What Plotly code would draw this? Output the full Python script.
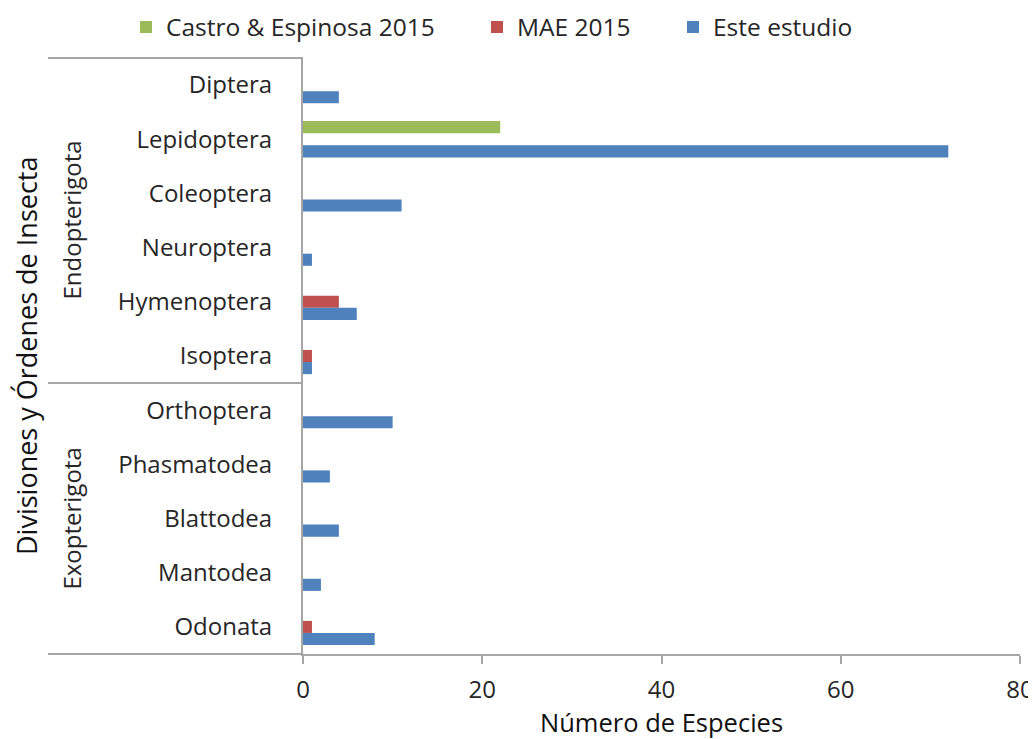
import plotly.graph_objects as go

# Insect orders (top to bottom) and the divisions they belong to
ORDERS = [
    "Diptera", "Lepidoptera", "Coleoptera", "Neuroptera", "Hymenoptera", "Isoptera",
    "Orthoptera", "Phasmatodea", "Blattodea", "Mantodea", "Odonata",
]
DIVISIONS = ["Endopterigota", "Exopterigota"]
DIVISION_SIZES = [6, 5]

# number of species per order and source
CASTRO_ESPINOSA_2015 = [0, 22, 0, 0, 0, 0, 0, 0, 0, 0, 0]
MAE_2015 = [0, 0, 0, 0, 4, 1, 0, 0, 0, 0, 1]
ESTE_ESTUDIO = [4, 72, 11, 1, 6, 1, 10, 3, 4, 2, 8]

# name, values, colour, legend entry width
SERIES = [
    ("Castro & Espinosa 2015", CASTRO_ESPINOSA_2015, "#9BBB59", 306),
    ("MAE 2015", MAE_2015, "#C0504D", 151),
    ("Este estudio", ESTE_ESTUDIO, "#4F81BD", 150),
]

FONT = "Open Sans"
TEXT = "#262626"
LINE = "#A6A6A6"

# the page body has an 8px margin, so the figure is drawn 8px in from the corner
OFFSET = 8
W, H = 1036 - OFFSET, 739 - OFFSET
L, R, T, B = 303 - OFFSET, 16, 58 - OFFSET, 85
PW = W - L - R
PH = H - T - B


def px_x(px):
    """page pixel x -> paper x"""
    return (px - OFFSET - L) / PW


def px_y(py):
    """page pixel y -> paper y"""
    return (H - B - (py - OFFSET)) / PH


fig = go.Figure()
for name, values, colour, entry_w in SERIES:
    fig.add_trace(
        go.Bar(
            x=values,
            y=ORDERS,
            name=name,
            orientation="h",
            marker=dict(color=colour, line=dict(width=0)),
            legendwidth=entry_w,
        )
    )

fig.update_layout(
    width=W,
    height=H,
    margin=dict(l=L, r=R, t=T, b=B, pad=0, autoexpand=False),
    barmode="group",
    bargap=0.33,
    bargroupgap=0,
    plot_bgcolor="white",
    paper_bgcolor="white",
    font=dict(family=FONT, size=24, color=TEXT),
    legend=dict(
        orientation="h",
        x=px_x(126),
        xanchor="left",
        y=px_y(27),
        yanchor="middle",
        font=dict(size=24.5, color=TEXT),
        traceorder="normal",
        itemclick=False,
    ),
)

fig.update_xaxes(
    range=[0, 80],
    dtick=20,
    showgrid=False,
    zeroline=False,
    showline=True,
    linecolor=LINE,
    linewidth=2,
    ticks="outside",
    ticklen=8,
    tickwidth=2,
    tickcolor=LINE,
    ticklabelstandoff=5,
    automargin=False,
    tickfont=dict(size=24, color=TEXT),
)
fig.update_yaxes(
    autorange="reversed",
    showgrid=False,
    zeroline=False,
    showline=True,
    linecolor=LINE,
    linewidth=2,
    ticks="",
    ticklabelstandoff=24,
    automargin=False,
    tickfont=dict(size=24, color=TEXT),
)

# multi-level category axis: horizontal separators to the left of the plot
left = px_x(48)
fig.add_shape(type="line", xref="paper", yref="paper", x0=left, x1=0, y0=1, y1=1,
              line=dict(color=LINE, width=2))
fig.add_shape(type="line", xref="paper", yref="paper", x0=left, x1=0, y0=0, y1=0,
              line=dict(color=LINE, width=2))
start = 0
for size in DIVISION_SIZES[:-1]:
    start += size
    fig.add_shape(type="line", xref="paper", yref="y", x0=left, x1=0,
                  y0=start - 0.5, y1=start - 0.5, line=dict(color=LINE, width=2))

# division labels
start = 0
for division, size in zip(DIVISIONS, DIVISION_SIZES):
    fig.add_annotation(
        text=division,
        xref="paper", yref="y",
        x=px_x(72), y=start + (size - 1) / 2,
        textangle=-90, showarrow=False,
        xanchor="center", yanchor="middle",
        font=dict(size=24, color=TEXT),
    )
    start += size

# axis titles
fig.add_annotation(
    text="Divisiones y Órdenes de Insecta",
    xref="paper", yref="paper",
    x=px_x(26), y=0.5, textangle=-90, showarrow=False,
    xanchor="center", yanchor="middle",
    font=dict(size=27, color="#111111"),
)
fig.add_annotation(
    text="Número de Especies",
    xref="paper", yref="paper",
    x=0.5, y=px_y(722), showarrow=False,
    xanchor="center", yanchor="middle",
    font=dict(size=25.5, color="#111111"),
)

fig.write_html("out.html")
